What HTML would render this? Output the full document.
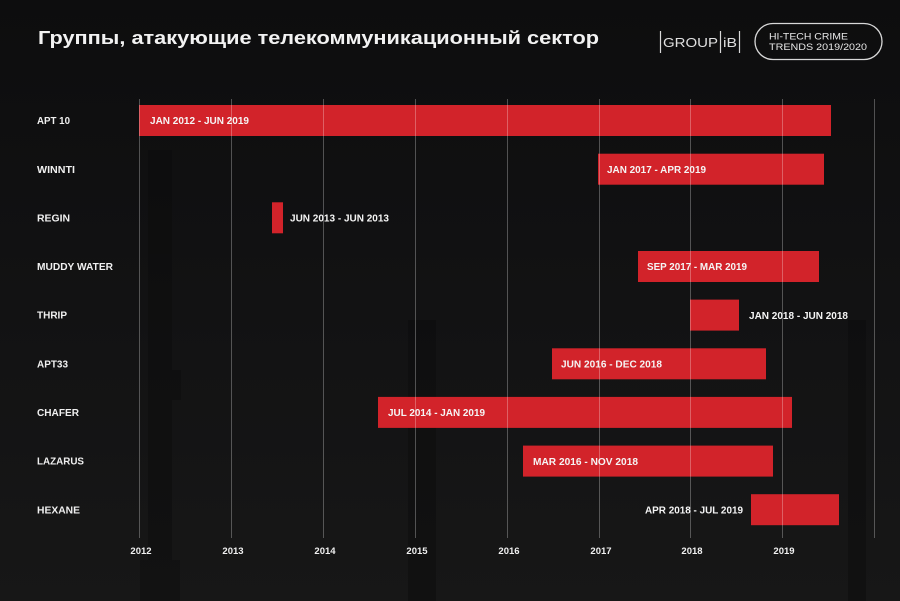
<!DOCTYPE html>
<html>
<head>
<meta charset="utf-8">
<style>
  html,body{margin:0;padding:0;background:#121212;}
  svg{display:block;}
  text{font-family:"Liberation Sans","Noto Sans CJK SC",sans-serif;}
</style>
</head>
<body>
<svg width="900" height="601" viewBox="0 0 900 601" xmlns="http://www.w3.org/2000/svg">
  <defs>
    <linearGradient id="bg" x1="0" y1="0" x2="0" y2="1">
      <stop offset="0" stop-color="#0d0d0e"/>
      <stop offset="0.5" stop-color="#121213"/>
      <stop offset="1" stop-color="#171717"/>
    </linearGradient>
  </defs>
  <rect x="0" y="0" width="900" height="601" fill="url(#bg)"/>

  <!-- faint tower silhouettes -->
  <g fill="#0c0c0c" opacity="0.45">
    <rect x="148" y="150" width="24" height="451"/>
    <rect x="140" y="560" width="40" height="41"/>
    <rect x="165" y="370" width="16" height="30"/>
    <rect x="408" y="320" width="28" height="281"/>
    <rect x="848" y="320" width="18" height="281"/>
  </g>

  <!-- Title -->
  <text x="38" y="44" font-size="18" font-weight="bold" fill="#f2f2f2" textLength="561" lengthAdjust="spacingAndGlyphs">Группы, атакующие телекоммуникационный сектор</text>

  <!-- Logo -->
  <g stroke="#d8d8d8" stroke-width="1.2">
    <line x1="660.5" y1="31" x2="660.5" y2="53"/>
    <line x1="720.5" y1="31" x2="720.5" y2="53"/>
    <line x1="739.5" y1="31" x2="739.5" y2="53"/>
  </g>
  <text x="663" y="47" font-size="13" fill="#e0e0e0" textLength="55" lengthAdjust="spacingAndGlyphs">GROUP</text>
  <text x="723" y="47" font-size="13" fill="#e0e0e0" textLength="14" lengthAdjust="spacingAndGlyphs">iB</text>

  <rect x="755" y="23.5" width="127" height="36" rx="18" ry="18" fill="none" stroke="#d8d8d8" stroke-width="1.3"/>
  <text x="769" y="39.5" font-size="9.5" fill="#e8e8e8" textLength="79" lengthAdjust="spacingAndGlyphs">HI-TECH CRIME</text>
  <text x="769" y="50" font-size="9.5" fill="#e8e8e8" textLength="98" lengthAdjust="spacingAndGlyphs">TRENDS 2019/2020</text>

  <!-- Row labels -->
  <g font-size="10" font-weight="bold" fill="#f0f0f0">
    <text x="37" y="124" textLength="33" lengthAdjust="spacingAndGlyphs">APT 10</text>
    <text x="37" y="172.8" textLength="38" lengthAdjust="spacingAndGlyphs">WINNTI</text>
    <text x="37" y="221.4" textLength="33" lengthAdjust="spacingAndGlyphs">REGIN</text>
    <text x="37" y="270.1" textLength="76" lengthAdjust="spacingAndGlyphs">MUDDY WATER</text>
    <text x="37" y="318.7" textLength="30" lengthAdjust="spacingAndGlyphs">THRIP</text>
    <text x="37" y="367.4" textLength="31" lengthAdjust="spacingAndGlyphs">APT33</text>
    <text x="37" y="416" textLength="42" lengthAdjust="spacingAndGlyphs">CHAFER</text>
    <text x="37" y="464.7" textLength="47" lengthAdjust="spacingAndGlyphs">LAZARUS</text>
    <text x="37" y="513.3" textLength="43" lengthAdjust="spacingAndGlyphs">HEXANE</text>
  </g>

  <!-- Bars -->
  <g fill="#d2232a">
    <rect x="139" y="105" width="692" height="31"/>
    <rect x="598" y="153.7" width="226" height="31"/>
    <rect x="272" y="202.3" width="11" height="31"/>
    <rect x="638" y="251" width="181" height="31"/>
    <rect x="690" y="299.6" width="49" height="31"/>
    <rect x="552" y="348.3" width="214" height="31"/>
    <rect x="378" y="396.9" width="414" height="31"/>
    <rect x="523" y="445.6" width="250" height="31"/>
    <rect x="751" y="494.2" width="88" height="31"/>
  </g>

  <!-- Gridlines -->
  <g stroke="#ffffff" stroke-opacity="0.28" stroke-width="1">
    <line x1="139.5" y1="99" x2="139.5" y2="538"/>
    <line x1="231.5" y1="99" x2="231.5" y2="538"/>
    <line x1="323.5" y1="99" x2="323.5" y2="538"/>
    <line x1="415.5" y1="99" x2="415.5" y2="538"/>
    <line x1="507.5" y1="99" x2="507.5" y2="538"/>
    <line x1="599.5" y1="99" x2="599.5" y2="538"/>
    <line x1="690.5" y1="99" x2="690.5" y2="538"/>
    <line x1="782.5" y1="99" x2="782.5" y2="538"/>
    <line x1="874.5" y1="99" x2="874.5" y2="538"/>
  </g>

  <!-- Bar labels -->
  <g font-size="10" font-weight="bold" fill="#f5f5f5">
    <text x="150" y="124.2" textLength="99" lengthAdjust="spacingAndGlyphs">JAN 2012 - JUN 2019</text>
    <text x="607" y="172.9" textLength="99" lengthAdjust="spacingAndGlyphs">JAN 2017 - APR 2019</text>
    <text x="290" y="221.5" textLength="99" lengthAdjust="spacingAndGlyphs">JUN 2013 - JUN 2013</text>
    <text x="647" y="270.2" textLength="100" lengthAdjust="spacingAndGlyphs">SEP 2017 - MAR 2019</text>
    <text x="749" y="318.8" textLength="99" lengthAdjust="spacingAndGlyphs">JAN 2018 - JUN 2018</text>
    <text x="561" y="367.5" textLength="101" lengthAdjust="spacingAndGlyphs">JUN 2016 - DEC 2018</text>
    <text x="388" y="416.1" textLength="97" lengthAdjust="spacingAndGlyphs">JUL 2014 - JAN 2019</text>
    <text x="533" y="464.8" textLength="105" lengthAdjust="spacingAndGlyphs">MAR 2016 - NOV 2018</text>
    <text x="645" y="513.4" textLength="98" lengthAdjust="spacingAndGlyphs">APR 2018 - JUL 2019</text>
  </g>

  <!-- Year labels -->
  <g font-size="9.5" font-weight="bold" fill="#f0f0f0" text-anchor="middle">
    <text x="141" y="554">2012</text>
    <text x="233" y="554">2013</text>
    <text x="325" y="554">2014</text>
    <text x="417" y="554">2015</text>
    <text x="509" y="554">2016</text>
    <text x="601" y="554">2017</text>
    <text x="692" y="554">2018</text>
    <text x="784" y="554">2019</text>
  </g>
</svg>
</body>
</html>
